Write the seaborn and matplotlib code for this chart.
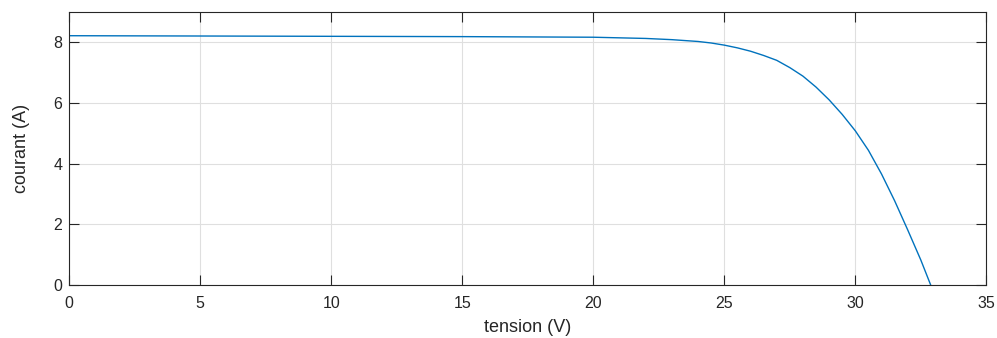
import matplotlib
matplotlib.use('Agg')
from matplotlib import pyplot as plt
import pandas as pd
import seaborn as sns


# I-V curve
tension = [0, 5, 10, 15, 20, 21, 22, 23, 24, 24.5, 25, 25.5, 26, 26.5,
	27, 27.5, 28, 28.5, 29, 29.5, 30, 30.5, 31, 31.5, 32, 32.5, 32.88]
courant = [8.21, 8.20, 8.19, 8.18, 8.16, 8.14, 8.12, 8.08, 8.02, 7.97,
	7.90, 7.81, 7.70, 7.56, 7.40, 7.16, 6.88, 6.52, 6.10, 5.62,
	5.08, 4.44, 3.66, 2.78, 1.82, 0.83, 0.0]

x_ticks = [0, 5, 10, 15, 20, 25, 30, 35]
y_ticks = [0, 2, 4, 6, 8]


df = pd.DataFrame({'tension': tension, 'courant': courant})

sns.set_theme(style='whitegrid')
plt.rcParams['font.family'] = ['Liberation Sans', 'DejaVu Sans']

fig = plt.figure(figsize=(9.97, 3.38), dpi=100)
ax = fig.add_axes([0.0695, 0.156, 0.9198, 0.8094])

sns.lineplot(data=df, x='tension', y='courant', color='#0072BD',
	linewidth=1.0, sort=False, ax=ax)

ax.set_xlim(0, 35)
ax.set_ylim(0, 9)
ax.set_xticks(x_ticks)
ax.set_yticks(y_ticks)

ax.grid(True, color='#dfdfdf', linewidth=0.8)
for s in ax.spines.values():
	s.set_visible(True)
	s.set_color('#262626')
	s.set_linewidth(0.8)

ax.tick_params(direction='in', length=7, width=0.8, color='#262626',
	labelcolor='#262626', labelsize=11.5, top=True, right=True,
	bottom=True, left=True)
ax.tick_params(axis='x', pad=7.5)
ax.tick_params(axis='y', pad=5)

ax.set_xlabel('tension (V)', fontsize=13, color='#262626', labelpad=6)
ax.set_ylabel('courant (A)', fontsize=13, color='#262626', labelpad=17)

plt.savefig('out.png', dpi=100)
